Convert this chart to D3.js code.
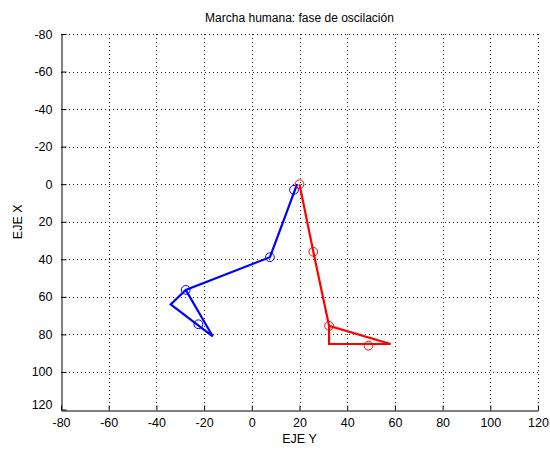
<!DOCTYPE html>
<html>
<head>
<meta charset="utf-8">
<script src="https://cdn.jsdelivr.net/npm/d3@7"></script>
<style>
html,body{margin:0;padding:0;background:#fff;}
svg{display:block;}
text{font-family:"Liberation Sans",Arial,sans-serif;fill:#000;}
</style>
</head>
<body>
<svg id="chart" width="550" height="451"></svg>
<script>
// ---- data ----
const titleText = "Marcha humana: fase de oscilación";
const xLabelText = "EJE Y";
const yLabelText = "EJE X";
const xTicks = [-80, -60, -40, -20, 0, 20, 40, 60, 80, 100, 120];
const yTicks = [-80, -60, -40, -20, 0, 20, 40, 60, 80, 100, 120];

// blue leg (polyline): hip, knee, ankle, heel, toe, ankle
const blueLineX = [19, 7.6, -27.7, -34, -16.4, -27.7];
const blueLineY = [0, 38.9, 56.3, 64, 81, 56.3];
// blue markers
const blueMarkX = [17.7, 7.6, -27.7, -22.4];
const blueMarkY = [3, 38.9, 56.3, 74.6];

// red leg (polyline): hip, knee, ankle, toe, heel, ankle
const redLineX = [20, 25.8, 32.4, 58.2, 32.4, 32.4];
const redLineY = [0, 36, 75.4, 85.1, 85.1, 75.4];
// red markers
const redMarkX = [20, 25.8, 32.4, 48.9];
const redMarkY = [0, 36, 75.4, 86];

// ---- layout ----
const L = 61, R = 538, T = 34, B = 409.5;
const svg = d3.select("#chart");

const x = d3.scaleLinear().domain([-80, 120]).range([L, R]);
const y = d3.scaleLinear().domain([-80, 120]).range([T, B]); // reversed (ij)

// grid
const grid = svg.append("g");
grid.selectAll("line.gx").data(xTicks.filter(d => d !== -80)).enter().append("line")
  .attr("x1", d => Math.round(x(d)) + 0.5).attr("x2", d => Math.round(x(d)) + 0.5)
  .attr("y1", T).attr("y2", B)
  .attr("stroke", "#222").attr("stroke-width", 1).attr("stroke-dasharray", "1,3");
grid.selectAll("line.gy").data(yTicks.filter(d => d !== 120)).enter().append("line")
  .attr("y1", d => Math.round(y(d)) + 0.5).attr("y2", d => Math.round(y(d)) + 0.5)
  .attr("x1", L).attr("x2", R)
  .attr("stroke", "#222").attr("stroke-width", 1).attr("stroke-dasharray", "1,3");

// axes
const fmt = d => String(d);
const xAxis = d3.axisBottom(x).tickValues(xTicks).tickFormat(fmt).tickSizeInner(-5).tickSizeOuter(0).tickPadding(8);
const yAxis = d3.axisLeft(y).tickValues(yTicks).tickFormat(fmt).tickSizeInner(-5).tickSizeOuter(0).tickPadding(9);

const gx = svg.append("g").attr("transform", `translate(0,${Math.round(B) + 0.5})`).call(xAxis);
const gy = svg.append("g").attr("transform", `translate(${Math.round(L) + 0.5},0)`).call(yAxis);
[gx, gy].forEach(g => {
  g.select(".domain").attr("stroke", "#000").attr("stroke-width", 1);
  g.selectAll(".tick line").attr("stroke", "#000");
  g.selectAll(".tick text").attr("font-size", 12.5).attr("font-family", "'Liberation Sans',Arial,sans-serif").attr("fill", "#000");
});
gy.selectAll(".tick text").filter(d => d === 120).attr("dy", "-0.1em");

// lines
const line = d3.line().x(d => x(d[0])).y(d => y(d[1]));
const blueLine = blueLineX.map((v, i) => [v, blueLineY[i]]);
const redLine = redLineX.map((v, i) => [v, redLineY[i]]);
const blueMarks = blueMarkX.map((v, i) => [v, blueMarkY[i]]);
const redMarks = redMarkX.map((v, i) => [v, redMarkY[i]]);

svg.append("path").datum(blueLine).attr("d", line)
  .attr("fill", "none").attr("stroke", "#0000ff").attr("stroke-width", 2.2).attr("stroke-linejoin", "miter");
svg.append("g").selectAll("circle").data(blueMarks).enter().append("circle")
  .attr("cx", d => x(d[0])).attr("cy", d => y(d[1])).attr("r", 4.4)
  .attr("fill", "none").attr("stroke", "#0000ff").attr("stroke-width", 1);

svg.append("path").datum(redLine).attr("d", line)
  .attr("fill", "none").attr("stroke", "#ff0000").attr("stroke-width", 2.2).attr("stroke-linejoin", "miter");
svg.append("g").selectAll("circle").data(redMarks).enter().append("circle")
  .attr("cx", d => x(d[0])).attr("cy", d => y(d[1])).attr("r", 4.4)
  .attr("fill", "none").attr("stroke", "#ff0000").attr("stroke-width", 1);

// labels
svg.append("text").attr("x", (L + R) / 2).attr("y", 22).attr("text-anchor", "middle")
  .attr("font-size", 12).text(titleText);
svg.append("text").attr("x", (L + R) / 2).attr("y", 443).attr("text-anchor", "middle")
  .attr("font-size", 12.5).text(xLabelText);
svg.append("text").attr("transform", `translate(22,${(T + B) / 2}) rotate(-90)`).attr("text-anchor", "middle")
  .attr("font-size", 12.5).text(yLabelText);
</script>
</body>
</html>
